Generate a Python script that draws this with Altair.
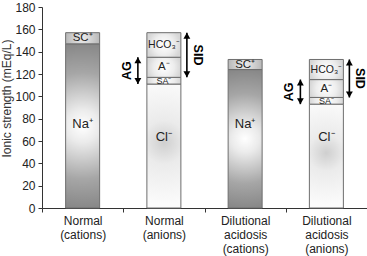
import altair as alt
import pandas as pd

# ---- data ----
categories = ["Normal|(cations)", "Normal|(anions)",
              "Dilutional|acidosis|(cations)", "Dilutional|acidosis|(anions)"]
cation_bars = ["Normal|(cations)", "Dilutional|acidosis|(cations)"]
na_values = [147, 124]
sc_values = [10, 9]
anion_bars = ["Normal|(anions)", "Dilutional|acidosis|(anions)"]
cl_values = [111, 93]
sa_values = [6, 6]
a_values = [18, 16]
hco3_values = [22, 18]

ion_labels = {"Na": "Na⁺", "SC": "SC⁺", "Cl": "Cl⁻", "SA": "SA⁻", "A": "A⁻", "HCO3": "HCO₃⁻"}

rows = []
for cat, na, sc in zip(cation_bars, na_values, sc_values):
    rows.append(dict(cat=cat, ion="Na", start=0, end=na))
    rows.append(dict(cat=cat, ion="SC", start=na, end=na + sc))
for cat, cl, sa, a, h in zip(anion_bars, cl_values, sa_values, a_values, hco3_values):
    s = 0
    for ion, v in (("Cl", cl), ("SA", sa), ("A", a), ("HCO3", h)):
        rows.append(dict(cat=cat, ion=ion, start=s, end=s + v))
        s += v
seg = pd.DataFrame(rows)
seg["label"] = seg["ion"].map(ion_labels)
seg["mid"] = (seg["start"] + seg["end"]) / 2

arr_rows = []
for cat, cl, sa, a, h in zip(anion_bars, cl_values, sa_values, a_values, hco3_values):
    arr_rows.append(dict(cat=cat, kind="AG", lo=cl, hi=cl + sa + a))
    arr_rows.append(dict(cat=cat, kind="SID", lo=cl + sa, hi=cl + sa + a + h))
arrows = pd.DataFrame(arr_rows)
arrows["mid"] = (arrows["lo"] + arrows["hi"]) / 2

FONT = "Liberation Sans"
TITLE = "Ionic strength (mEq/L)"

xenc = alt.X("cat:N", sort=categories,
             scale=alt.Scale(domain=categories, paddingInner=0, paddingOuter=0),
             axis=alt.Axis(title=None, labelExpr="split(datum.label, '|')",
                           tickBand="extent", labelAngle=0, labelFontSize=12,
                           labelLineHeight=14, labelPadding=3, tickSize=4,
                           labelBaseline="top"))
yscale = alt.Scale(domain=[0, 180], nice=False)
yaxis = alt.Axis(values=list(range(0, 181, 20)), title=TITLE, tickSize=4,
                 labelPadding=3, grid=False, titlePadding=1, titleY=91,
                 labelFontSize=12)


def Y(field):
    return alt.Y(field, scale=yscale, axis=yaxis, title=TITLE)


def radial(stops, cy=0.5, r=0.5):
    return alt.RadialGradient(
        gradient="radial",
        stops=[alt.GradientStop(color=c, offset=o) for o, c in stops],
        x1=0.5, y1=cy, r1=0, x2=0.5, y2=cy, r2=r)


g_na = radial([(0, "#ffffff"), (0.2, "#ebebeb"), (0.65, "#a6a6a6"), (1, "#888888")], cy=0.5, r=0.5)
g_sc = radial([(0, "#ececec"), (0.6, "#cdcdcd"), (1, "#b8b8b8")])
g_cl = radial([(0, "#cfcfcf"), (0.35, "#ebebeb"), (1, "#fbfbfb")], cy=0.47)
g_small = radial([(0, "#ffffff"), (0.6, "#ededed"), (1, "#d6d6d6")])

BAR_W = 34
STROKE = "#6e6e6e"


def bars(ions, fill):
    return alt.Chart(seg).transform_filter(
        alt.FieldOneOfPredicate(field="ion", oneOf=ions)
    ).mark_bar(width=BAR_W, fill=fill, stroke=STROKE, strokeWidth=1).encode(
        x=xenc, y=Y("start:Q"), y2="end:Q")


layers = [
    bars(["Na"], g_na),
    bars(["SC"], g_sc),
    bars(["Cl"], g_cl),
    bars(["SA", "A", "HCO3"], g_small),
]

# labels inside segments
NA_LABEL_AT = 75
CL_LABEL_AT = 64
for ion, at in (("Na", NA_LABEL_AT), ("Cl", CL_LABEL_AT)):
    layers.append(alt.Chart(seg).transform_filter(alt.datum.ion == ion).mark_text(
        font=FONT, fontSize=13, color="#222").encode(
        x=xenc, y=alt.Y(datum=at, scale=yscale, axis=yaxis, title=TITLE), text="label:N"))
for ions, fs in ((["SC", "A"], 11.5), (["HCO3"], 10.5), (["SA"], 9)):
    layers.append(alt.Chart(seg).transform_filter(
        alt.FieldOneOfPredicate(field="ion", oneOf=ions)).mark_text(
        font=FONT, fontSize=fs, color="#222").encode(
        x=xenc, y=Y("mid:Q"), text="label:N"))

# arrows
UP = "M0,0L-1.15,2L1.15,2Z"
DOWN = "M0,0L-1.15,-2L1.15,-2Z"
for kind, off, toff, ang in (("AG", -26, -37, 270), ("SID", 23, 34, 90)):
    base = alt.Chart(arrows).transform_filter(alt.datum.kind == kind)
    layers.append(base.mark_rule(xOffset=off, color="#000", strokeWidth=1.6).encode(
        x=xenc, y=Y("lo:Q"), y2="hi:Q"))
    layers.append(base.mark_point(xOffset=off, shape=UP, filled=True, size=36,
                                  color="#000", opacity=1).encode(x=xenc, y=Y("hi:Q")))
    layers.append(base.mark_point(xOffset=off, shape=DOWN, filled=True, size=36,
                                  color="#000", opacity=1).encode(x=xenc, y=Y("lo:Q")))
    layers.append(base.mark_text(xOffset=toff, angle=ang, font=FONT, fontSize=12.5,
                                 fontWeight="bold", color="#000", baseline="middle",
                                 align="center").encode(
        x=xenc, y=Y("mid:Q"), text="kind:N"))

chart = alt.layer(*layers).properties(
    width=325, height=201,
    autosize=alt.AutoSizeParams(type="none"),
    padding={"left": 42, "top": 7, "right": 0, "bottom": 48},
).configure_view(strokeWidth=0).configure_axis(
    labelFont=FONT, titleFont=FONT, labelFontSize=11, titleFontSize=12,
    titleFontWeight="normal", labelColor="#222", titleColor="#333",
    domainColor="#333", tickColor="#333", domainWidth=1,
)

chart.save("out.html", embed_options={"renderer": "svg", "actions": False})
